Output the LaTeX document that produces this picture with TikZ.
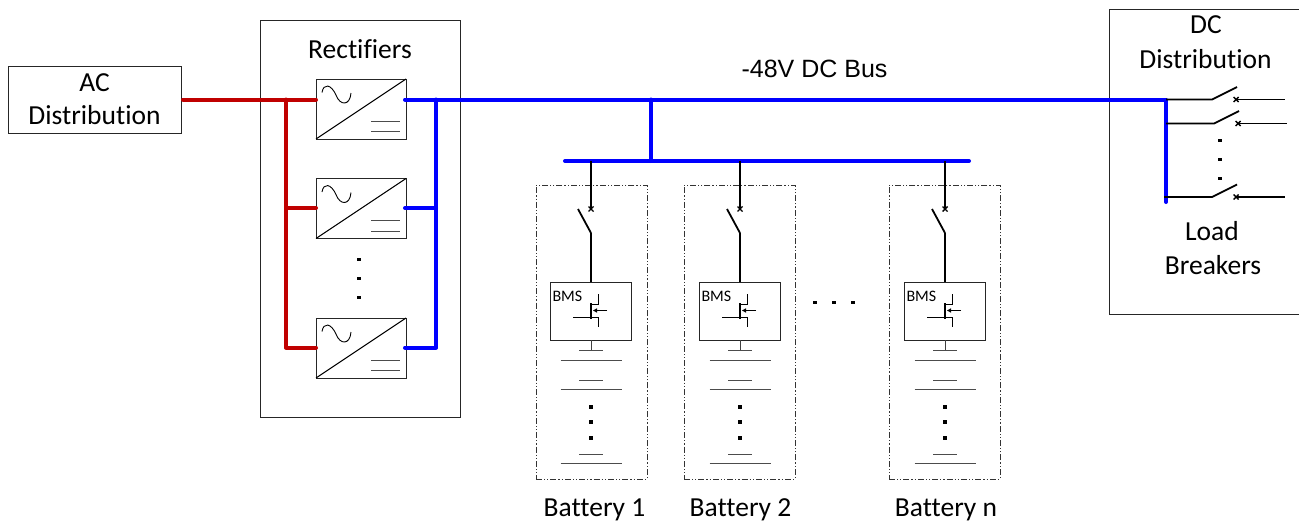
\documentclass[tikz,border=0pt]{standalone}
\usepackage{fontspec}
\setmainfont[Ligatures=NoCommon]{Carlito}
\newfontfamily\arialf{Liberation Sans}
\definecolor{acred}{HTML}{C00000}
\tikzset{
  every node/.style={inner sep=0pt,outer sep=0pt},
  box/.style={draw=black!85,line width=1pt,fill=none},
  lbl/.style={font=\fontsize{27.5}{30}\selectfont,text=black,anchor=base},
  redbus/.style={draw=acred,line width=4pt,line cap=round,line join=round},
  bluebus/.style={draw=blue,line width=4pt,line cap=round,line join=round},
  wire/.style={draw=black,line width=1.8pt},
  thin line/.style={draw=black,line width=1pt},
  plate/.style={draw=black!70,line width=0.9pt},
  dotmark/.style={rectangle,fill=black,minimum size=3.2pt},
  cross/.style={draw=black,line width=1.4pt},
  battbox/.style={draw=black!80,line width=0.9pt,dash pattern=on 6pt off 2pt on 1.2pt off 2pt on 1.2pt off 2pt},
}
\begin{document}
\begin{tikzpicture}[x=1pt,y=-1pt]
\useasboundingbox (0,0) rectangle (1299,522);
% boxes
\node[box,minimum width=173pt,minimum height=67pt,anchor=north west] (ac) at (8,66) {};
\node[lbl] (actext1) at (94.5,91) {AC};
\node[lbl] (actext2) at (94.5,124) {Distribution};
\node[box,minimum width=200pt,minimum height=397pt,anchor=north west] (rectbox) at (260,20) {};
\node[lbl] (recttext) at (360,58) {Rectifiers};
\draw[box] (1299,9) -- (1109,9) -- (1109,314.5) -- (1299,314.5);
\node[lbl] (dctext1) at (1206,33) {DC};
\node[lbl] (dctext2) at (1205.5,68) {Distribution};
\node[lbl] (loadtext1) at (1212,240) {Load};
\node[lbl] (loadtext2) at (1213,274) {Breakers};
\node[font=\arialf\fontsize{25}{28}\selectfont,text=black,anchor=base] (bustext) at (814.5,77) {-48V DC Bus};
% rectifier units
\foreach \n/\y in {r1/79,r2/178.5,r3/318}{
  \node[box,minimum width=90pt,minimum height=60pt,anchor=north west] (\n) at (316,\y) {};
  \draw[thin line] (\n.south west) -- (\n.north east);
  \draw[line width=0.9pt,black] ([shift={(6,13.5)}]\n.north west)
     .. controls ([shift={(7.5,4)}]\n.north west) and ([shift={(15,5)}]\n.north west) .. ([shift={(20,16)}]\n.north west)
     .. controls ([shift={(24,27)}]\n.north west) and ([shift={(34,27)}]\n.north west) .. ([shift={(35,14)}]\n.north west);
  \draw[plate] ([shift={(55,42)}]\n.north west) -- ([shift={(84,42)}]\n.north west);
  \draw[plate] ([shift={(55,52.5)}]\n.north west) -- ([shift={(84,52.5)}]\n.north west);
}
\foreach \i/\y in {a/259.5,b/278.5,c/297.5}{\node[dotmark] (rd\i) at (359,\y) {};}
% AC wiring
\coordinate (rj1) at (286,99.5);
\coordinate (rj2) at (286,208);
\coordinate (rj3) at (286,347.5);
\coordinate (r1in) at (316,99.5);
\coordinate (r2in) at (316,208);
\coordinate (r3in) at (316,347.5);
\coordinate (acout) at (183,99.5);
\draw[redbus] (acout) -- (r1in);
\draw[redbus] (rj1) -- (rj3) -- (r3in);
\draw[redbus] (rj2) -- (r2in);
% DC wiring
\coordinate (r1out) at (405,99.5);
\coordinate (r2out) at (405,208);
\coordinate (r3out) at (405,347.5);
\coordinate (bj1) at (436,99.5);
\coordinate (bj2) at (436,208);
\coordinate (bj3) at (436,347.5);
\coordinate (dcin) at (1166,99.5);
\coordinate (dcend) at (1166,202);
\coordinate (tap) at (651,99.5);
\coordinate (tapb) at (651,161);
\coordinate (bbl) at (565,161);
\coordinate (bbr) at (969,161);
\draw[bluebus] (r1out) -- (dcin) -- (dcend);
\draw[bluebus] (bj1) -- (bj3) -- (r3out);
\draw[bluebus] (bj2) -- (r2out);
\draw[bluebus] (tap) -- (tapb);
\draw[bluebus] (bbl) -- (bbr);
% batteries
\foreach \n/\x/\bx/\lx/\txt in {b1/591/591.5/594.5/Battery 1,b2/740/739.5/740.5/Battery 2,b3/945/944.5/946/Battery n}{
  \node[battbox,minimum width=111pt,minimum height=294pt] (\n) at (\bx,332) {};
  \node[lbl] (\n t) at (\lx,516) {\txt};
  \node[box,minimum width=81pt,minimum height=58pt,anchor=north] (\n bms) at (\x,282) {};
  \node[anchor=base west,font=\fontsize{16}{18}\selectfont,text=black] (\n lab) at (\x-38.5,301) {BMS};
  \coordinate (\n top) at (\x,161);
  \coordinate (\n sw1) at (\x,209);
  \coordinate (\n sw2) at (\x,233);
  \coordinate (\n bl) at (\x-13,209);
  \draw[wire] (\n top) -- (\n sw1);
  \draw[wire] (\n sw2) -- (\n bl);
  \draw[wire] (\n sw2) -- (\n bms.north);
  \draw[cross] (\x-2.5,206.5) -- (\x+2.5,211.5) (\x-2.5,211.5) -- (\x+2.5,206.5);
  % MOSFET
  \draw[thin line] (\x-18,317) -- (\x,317);
  \draw[line width=2pt,black] (\x,303) -- (\x,319);
  \draw[thin line] (\x,304) -- (\x+7.5,304) -- (\x+7.5,294);
  \draw[thin line] (\x,317) -- (\x+7.5,317) -- (\x+7.5,327);
  \draw[thin line] (\x+16,310.5) -- (\x+4,310.5);
  \fill[black] (\x+2,310.5) -- (\x+6,308.3) -- (\x+6,312.7) -- cycle;
  % cells
  \draw[line width=1pt,black!75] (\n bms.south) -- (\x,350);
  \foreach \yy/\w in {350/12,360/30.5,380/12,389/30.5,454/12,463/30.5}{
    \draw[plate] (\x-\w,\yy) -- (\x+\w,\yy);
  }
  \node[dotmark] (\n da) at (\x,407) {};
  \node[dotmark] (\n db) at (\x,422) {};
  \node[dotmark] (\n dc) at (\x,438) {};
}
\foreach \i/\x in {a/815,b/834,c/853}{\node[dotmark] (hd\i) at (\x,302.7) {};}
% load breakers
\foreach \n/\y/\xa/\xb/\xc/\xe in {l1/99.5/1166/1212/1236/1285,l2/123.5/1166/1214/1238/1287,l3/197/1164/1212/1236/1285}{
  \coordinate (\n a) at (\xa,\y);
  \coordinate (\n b) at (\xb,\y);
  \coordinate (\n c) at (\xb+25,\y-12.5);
  \coordinate (\n d) at (\xc,\y);
  \coordinate (\n e) at (\xe,\y);
  \draw[wire] (\n a) -- (\n b) -- (\n c);
  \draw[wire] (\n d) -- (\n e);
  \draw[cross] (\xc-2.5,\y-2.5) -- (\xc+2.5,\y+2.5) (\xc-2.5,\y+2.5) -- (\xc+2.5,\y-2.5);
}
\foreach \i/\y in {a/140.5,b/159.5,c/178.5}{\node[dotmark] (ld\i) at (1220,\y) {};}
\end{tikzpicture}
\end{document}
